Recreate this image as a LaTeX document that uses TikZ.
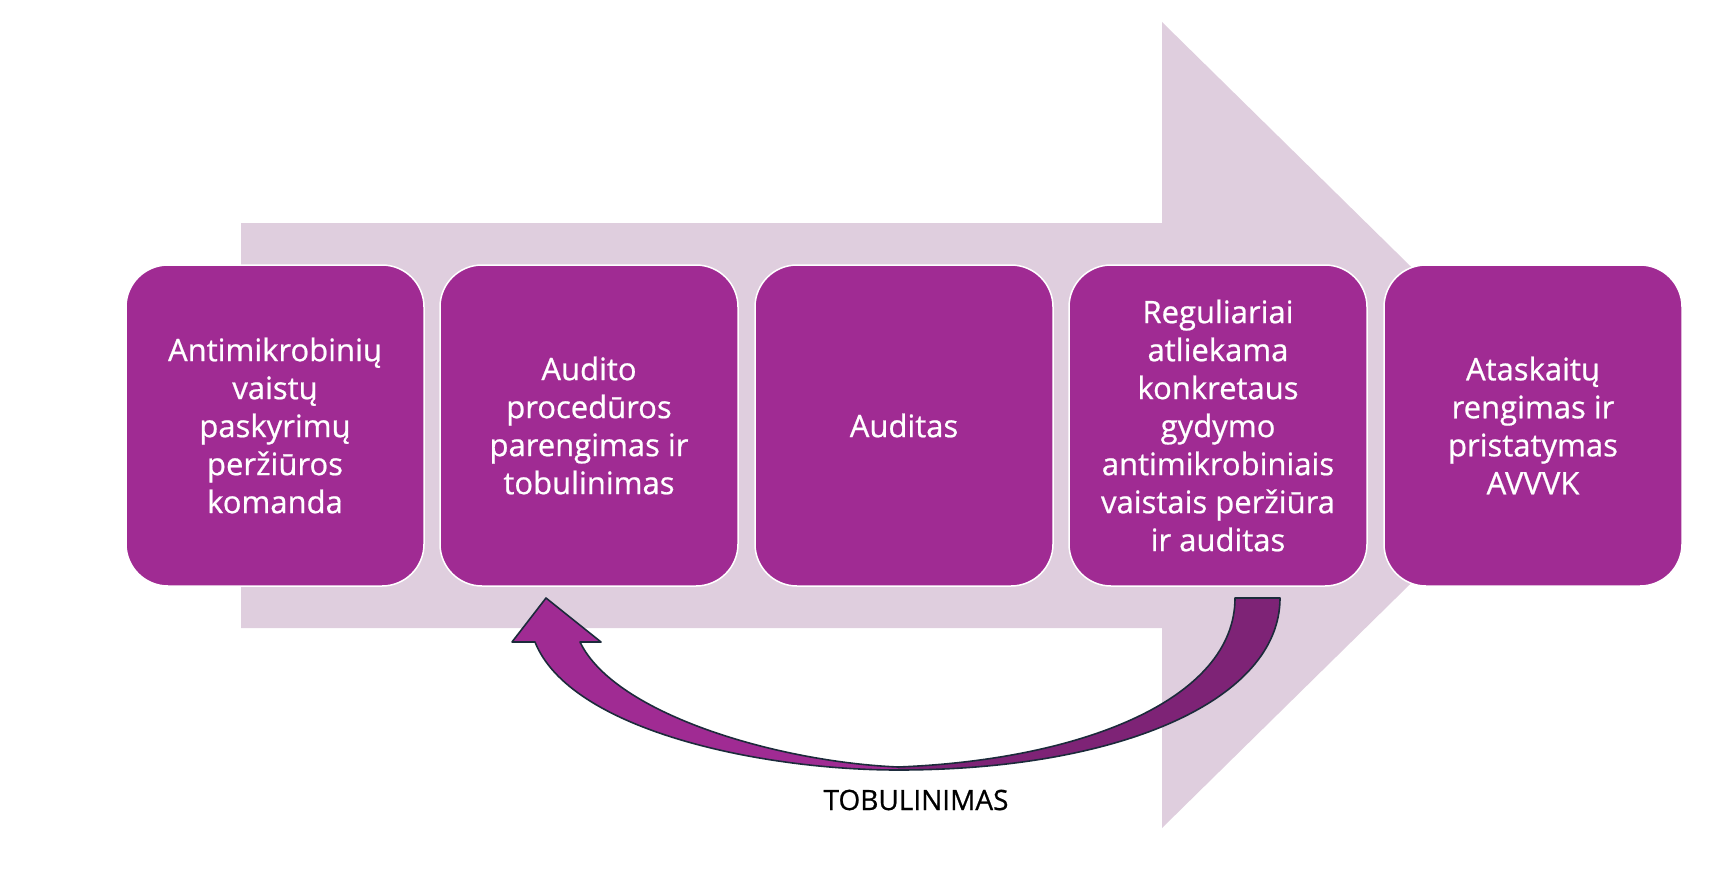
\documentclass[tikz,border=0pt]{standalone}
\usepackage{fontspec}
\setmainfont{Open Sans}[FakeBold=0.7]
\usetikzlibrary{arrows}
\definecolor{StepPurple}{HTML}{A02B93}
\definecolor{BandLilac}{HTML}{DFCEDE}
\definecolor{LoopDark}{HTML}{7E2376}
\definecolor{LoopEdge}{HTML}{1C2B3B}
\tikzstyle{StepNode}=[rectangle, rounded corners=42pt, fill=StepPurple, draw=white, line width=1.5pt, minimum width=298pt, minimum height=321pt, text=white, align=center, font=\fontsize{31}{38}\selectfont]
\tikzstyle{LoopEdgeLine}=[draw=LoopEdge, line width=1.6pt, line join=round]
\tikzstyle{LoopLabel}=[text=black, font=\fontsize{28}{32}\selectfont]

\begin{document}
\begin{tikzpicture}[x=1pt, y=-1pt]
\useasboundingbox (0,0) rectangle (1718,891);
% background arrow
\fill[BandLilac] (241,223) -- (1162,223) -- (1162,22) -- (1572,425) -- (1162,828) -- (1162,628) -- (241,628) -- cycle;

\node[StepNode](TEAM) at (275,425.5) {Antimikrobinių\\vaistų\\paskyrimų\\peržiūros\\komanda};
\node[StepNode](PREP) at (589,425.5) {Audito\\procedūros\\parengimas ir\\tobulinimas};
\node[StepNode](AUDIT) at (904,425.5) {Auditas};
\node[StepNode](REVIEW) at (1218,425.5) {Reguliariai\\atliekama\\konkretaus\\gydymo\\antimikrobiniais\\vaistais peržiūra\\ir auditas};
\node[StepNode](REPORT) at (1533,425.5) {Ataskaitų\\rengimas ir\\pristatymas\\AVVVK};

% loop arrow back to PREP
\fill[StepPurple] (535,642) .. controls (570,730) and (760,770) .. (898,770) -- (898,767) .. controls (780,762) and (615,715) .. (580,642) -- (601,642) -- (546,598) -- (512,642) -- cycle;
\fill[LoopDark] (898,770) .. controls (1120,770) and (1280,700) .. (1280,598) -- (1235,598) .. controls (1235,700) and (1080,760) .. (898,767) -- cycle;
\draw[LoopEdgeLine] (535,642) .. controls (570,730) and (760,770) .. (898,770) .. controls (1120,770) and (1280,700) .. (1280,598) -- (1235,598) .. controls (1235,700) and (1080,760) .. (898,767) .. controls (780,762) and (615,715) .. (580,642) -- (601,642) -- (546,598) -- (512,642) -- cycle;
\node[LoopLabel](LOOP) at (916,800) {TOBULINIMAS};
\end{tikzpicture}
\end{document}
